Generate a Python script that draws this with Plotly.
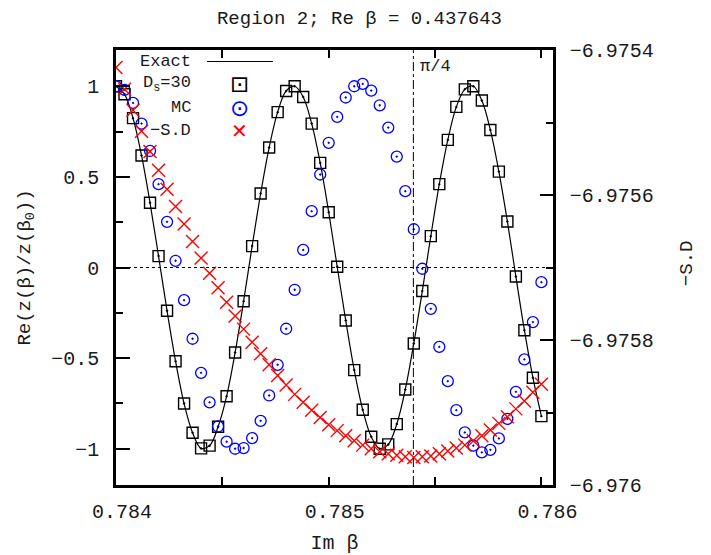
import plotly.graph_objects as go

# ---- data ----
im_beta = [0.78400, 0.78404, 0.78408, 0.78412, 0.78416, 0.78420, 0.78424, 0.78428, 0.78432, 0.78436,
           0.78440, 0.78444, 0.78448, 0.78452, 0.78456, 0.78460, 0.78464, 0.78468, 0.78472, 0.78476,
           0.78480, 0.78484, 0.78488, 0.78492, 0.78496, 0.78500, 0.78504, 0.78508, 0.78512, 0.78516,
           0.78520, 0.78524, 0.78528, 0.78532, 0.78536, 0.78540, 0.78544, 0.78548, 0.78552, 0.78556,
           0.78560, 0.78564, 0.78568, 0.78572, 0.78576, 0.78580, 0.78584, 0.78588, 0.78592, 0.78596,
           0.78600]

exact = [1.0, 0.956, 0.824, 0.618, 0.357, 0.063, -0.239, -0.517, -0.75, -0.912,
         -0.998, -0.983, -0.879, -0.71, -0.469, -0.186, 0.118, 0.408, 0.662, 0.857,
         0.974, 1.0, 0.941, 0.794, 0.577, 0.305, 0.004, -0.292, -0.566, -0.785,
         -0.934, -1.0, -0.976, -0.864, -0.673, -0.419, -0.13, 0.173, 0.46, 0.704,
         0.886, 0.983, 1.0, 0.921, 0.759, 0.529, 0.254, -0.05, -0.346, -0.608,
         -0.82]

ds30 = [1.0, 0.956, 0.824, 0.618, 0.357, 0.063, -0.239, -0.517, -0.75, -0.912,
        -0.998, -0.983, -0.879, -0.71, -0.469, -0.186, 0.118, 0.408, 0.662, 0.857,
        0.974, 1.0, 0.941, 0.794, 0.577, 0.305, 0.004, -0.292, -0.566, -0.785,
        -0.934, -1.0, -0.976, -0.864, -0.673, -0.419, -0.13, 0.173, 0.46, 0.704,
        0.886, 0.983, 1.0, 0.921, 0.759, 0.529, 0.254, -0.05, -0.346, -0.608,
        -0.82]

mc = [1.0, 0.98, 0.908, 0.794, 0.643, 0.46, 0.252, 0.037, -0.18, -0.393,
      -0.581, -0.744, -0.877, -0.961, -1.0, -0.996, -0.941, -0.846, -0.706, -0.537,
      -0.338, -0.123, 0.097, 0.311, 0.513, 0.688, 0.831, 0.938, 1.0, 1.013,
      0.976, 0.895, 0.772, 0.612, 0.421, 0.211, -0.007, -0.228, -0.438, -0.627,
      -0.787, -0.91, -0.983, -1.02, -1.006, -0.943, -0.835, -0.686, -0.507, -0.301,
      -0.081]

minus_sd = [-6.975424, -6.975454, -6.975483, -6.975512, -6.975540, -6.975566, -6.975592, -6.975616, -6.975640, -6.975664,
            -6.975687, -6.975708, -6.975728, -6.975748, -6.975767, -6.975785, -6.975803, -6.975819, -6.975834, -6.975849,
            -6.975862, -6.975875, -6.975886, -6.975897, -6.975907, -6.975917, -6.975925, -6.975932, -6.975939, -6.975945,
            -6.975950, -6.975954, -6.975957, -6.975959, -6.975961, -6.975962, -6.975961, -6.975960, -6.975957, -6.975953,
            -6.975949, -6.975945, -6.975939, -6.975932, -6.975924, -6.975915, -6.975906, -6.975895, -6.975884, -6.975872,
            -6.975861]

pi_over_4 = 0.785398

x_tickvals = [0.784, 0.785, 0.786]
x_ticktext = ["0.784", "0.785", "0.786"]
y_tickvals = [-1, -0.5, 0, 0.5, 1]
y_ticktext = ["\u22121", "\u22120.5", "0", "0.5", "1"]
y2_tickvals = [-6.976, -6.9758, -6.9756, -6.9754]
y2_ticktext = ["\u22126.976", "\u22126.9758", "\u22126.9756", "\u22126.9754"]

FONT = "Liberation Mono"
TXT = "#1a1a1a"

fig = go.Figure()

fig.add_trace(go.Scatter(x=im_beta, y=exact, mode="lines", name="Exact",
                         line=dict(color="black", width=1.2, shape="spline", smoothing=1.0),
                         showlegend=False))
fig.add_trace(go.Scatter(x=im_beta, y=ds30, mode="markers", name="D_s=30",
                         marker=dict(symbol="square-open-dot", size=11, color="black",
                                     line=dict(width=1.4, color="black")),
                         showlegend=False))
fig.add_trace(go.Scatter(x=im_beta, y=mc, mode="markers", name="MC",
                         marker=dict(symbol="circle-open-dot", size=11, color="blue",
                                     line=dict(width=1.3, color="blue")),
                         showlegend=False))
fig.add_trace(go.Scatter(x=im_beta, y=minus_sd, mode="markers", name="-S.D", yaxis="y2",
                         marker=dict(symbol="x-thin-open", size=13, color="red",
                                     line=dict(width=1.4, color="red")),
                         showlegend=False))

# reference lines
fig.add_shape(type="line", xref="paper", yref="y", x0=0, x1=1, y0=0, y1=0,
              line=dict(color="black", width=1, dash="dot"))
fig.add_shape(type="line", xref="x", yref="paper", x0=pi_over_4, x1=pi_over_4, y0=0, y1=1,
              line=dict(color="black", width=1, dash="dashdot"))
fig.add_annotation(x=pi_over_4, xref="x", y=0.962, yref="paper", text="\u03c0/4",
                   showarrow=False, xanchor="left", yanchor="middle", xshift=5,
                   font=dict(family=FONT, size=17, color=TXT))

# right axis title
fig.add_annotation(x=1.3066, xref="paper", y=0.51, yref="paper", text="\u2212S.D",
                   showarrow=False, textangle=-90, xanchor="center", yanchor="middle",
                   font=dict(family=FONT, size=19, color=TXT))

# gnuplot-style key (text right-aligned, sample on the right)
key_rows = [("Exact", 0.9736), ("D<sub>s</sub>=30", 0.9207), ("MC", 0.8667), ("\u2212S.D", 0.8138)]
for label, yk in key_rows:
    fig.add_annotation(x=0.176, xref="paper", y=yk, yref="paper", text=label, showarrow=False,
                       xanchor="right", yanchor="middle", font=dict(family=FONT, size=17, color=TXT))
fig.add_shape(type="line", xref="paper", yref="paper", x0=0.208, x1=0.359, y0=0.9736, y1=0.9736,
              line=dict(color="black", width=1.2))
fig.add_annotation(x=0.2826, xref="paper", y=0.9207, yref="paper", text="\u22a1", showarrow=False,
                   xanchor="center", yanchor="middle", font=dict(family="DejaVu Sans", size=23, color="black"))
fig.add_annotation(x=0.2826, xref="paper", y=0.8667, yref="paper", text="\u2299", showarrow=False,
                   xanchor="center", yanchor="middle", font=dict(family="DejaVu Sans", size=23, color="blue"))
fig.add_annotation(x=0.2826, xref="paper", y=0.8138, yref="paper", text="\u2715", showarrow=False,
                   xanchor="center", yanchor="middle", font=dict(family="DejaVu Sans", size=20, color="red"))

# the page places the figure 8px in from the top-left, so the figure is 8px smaller
fig.update_layout(
    width=703, height=547,
    margin=dict(l=108, r=158, t=42, b=70, autoexpand=False),
    paper_bgcolor="white", plot_bgcolor="white",
    font=dict(family=FONT, size=20, color=TXT),
    title=dict(text="Region 2; Re \u03b2 = 0.437643", x=0.5, xref="container", xanchor="center",
               y=0.982, yref="container", yanchor="middle",
               font=dict(family=FONT, size=19, color=TXT)),
    xaxis=dict(range=[0.784, 0.7860545], tickvals=x_tickvals, ticktext=x_ticktext,
               ticks="inside", ticklen=8, tickwidth=2, tickcolor="black",
               minor=dict(dtick=0.0005, ticks="inside", ticklen=8, tickwidth=2, tickcolor="black"),
               showline=True, linewidth=2.5, linecolor="black", mirror="ticks",
               showgrid=False, zeroline=False, ticklabelstandoff=6, ticklabelshift=6,
               automargin=False,
               tickfont=dict(family=FONT, size=20, color=TXT),
               title=dict(text="Im \u03b2", standoff=14, font=dict(family=FONT, size=20, color=TXT))),
    yaxis=dict(range=[-1.2, 1.2], tickvals=y_tickvals, ticktext=y_ticktext,
               ticks="inside", ticklen=14, tickwidth=2, tickcolor="black",
               minor=dict(dtick=0.25, ticks="inside", ticklen=7, tickwidth=2, tickcolor="black"),
               showline=True, linewidth=2.5, linecolor="black", mirror=False,
               showgrid=False, zeroline=False, ticklabelstandoff=10, automargin=False,
               tickfont=dict(family=FONT, size=20, color=TXT),
               title=dict(text="Re(z(\u03b2)/z(\u03b2<sub>0</sub>))", standoff=16,
                          font=dict(family=FONT, size=19, color=TXT))),
    yaxis2=dict(range=[-6.976, -6.9754], overlaying="y", side="right",
                tickvals=y2_tickvals, ticktext=y2_ticktext,
                ticks="inside", ticklen=13, tickwidth=2, tickcolor="black",
                minor=dict(dtick=0.0001, ticks="inside", ticklen=7, tickwidth=2, tickcolor="black"),
                showline=True, linewidth=2.5, linecolor="black",
                showgrid=False, zeroline=False, ticklabelstandoff=10, automargin=False,
                tickfont=dict(family=FONT, size=20, color=TXT)),
)

fig.write_html("out.html")
